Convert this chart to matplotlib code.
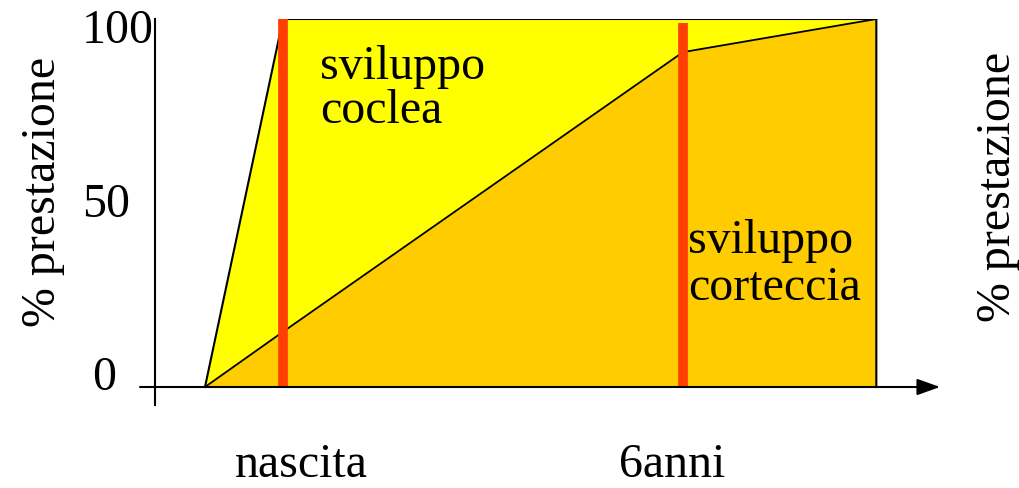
import matplotlib
matplotlib.use("Agg")
import matplotlib.pyplot as plt

# data
t = [-1.17, 0, 6, 8.9]
coclea = [0, 100, 100, 100]
corteccia = [0, 15, 91, 100]
markers_t = [0, 6]
markers_top = [100, 99]
yticks = [0, 50, 100]
ytick_labels = ["0", "50", "100"]
xlabels = ["nascita", "6anni"]
ylabel = "% prestazione"

plt.rcParams['font.family'] = ['Liberation Serif', 'DejaVu Serif']

W, H = 1020, 488
fig = plt.figure(figsize=(W/100, H/100), dpi=100)
# axes spanning px x 140..940, y 19..405
ax = fig.add_axes([140/W, 1-405/H, 800/W, (405-19)/H])
px_per_x = 400/6.0
x0 = (140-283)/px_per_x
x1 = (940-283)/px_per_x
px_per_y = (387-19)/100.0
ybot = -(405-387)/px_per_y
ax.set_xlim(x0, x1)
ax.set_ylim(ybot, 100)
for s in ax.spines.values():
    s.set_visible(False)
ax.set_xticks([]); ax.set_yticks([])
ax.patch.set_alpha(0)

yellow = "#FFFF00"
orange = "#FFCC00"
red = "#FF3F00"

ax.fill_between(t, 0, coclea, color=yellow, lw=0, zorder=1)
ax.fill_between(t, 0, corteccia, color=orange, lw=0, zorder=2)
ax.plot(t + [t[-1]], coclea + [0], color="black", lw=1.5, zorder=3, solid_joinstyle='miter')
ax.plot(t, corteccia, color="black", lw=1.3, zorder=3)
for mt, top in zip(markers_t, markers_top):
    ax.plot([mt, mt], [0, top], color=red, lw=7, zorder=4, solid_capstyle='butt')

yax_x = (155-283)/px_per_x
ax.plot([yax_x, yax_x], [ybot, 100], color="black", lw=1.5, zorder=5, clip_on=False)
ax.annotate("", xy=(x1, 0), xytext=(x0, 0),
            arrowprops=dict(arrowstyle="-|>,head_length=1.4,head_width=0.5", color="black", lw=1.5,
                            shrinkA=0, shrinkB=0), zorder=5, annotation_clip=False)

fs = 34.5

def ptext(x, y, s, **kw):
    return fig.text(x/W, 1-y/H, s, fontsize=fs, **kw)

# tick labels (pixel positions of left edge / baseline)
tick_pos = {"100": (82, 43), "50": (82, 217), "0": (92, 390)}
for lab in ytick_labels:
    x, y = tick_pos[lab]
    ptext(x, y, lab, ha="left", va="baseline")

ptext(320, 79, "sviluppo", ha="left", va="baseline")
ptext(320, 123, "coclea", ha="left", va="baseline")
ptext(688, 253, "sviluppo", ha="left", va="baseline")
ptext(688, 300, "corteccia", ha="left", va="baseline")

ptext(301, 477, xlabels[0], ha="center", va="baseline")
ptext(672, 477, xlabels[1], ha="center", va="baseline")

ptext(55, 192, ylabel, rotation=90, rotation_mode="anchor", ha="center", va="baseline")
ptext(1010, 187, ylabel, rotation=90, rotation_mode="anchor", ha="center", va="baseline")

fig.savefig("out.png", dpi=100)
